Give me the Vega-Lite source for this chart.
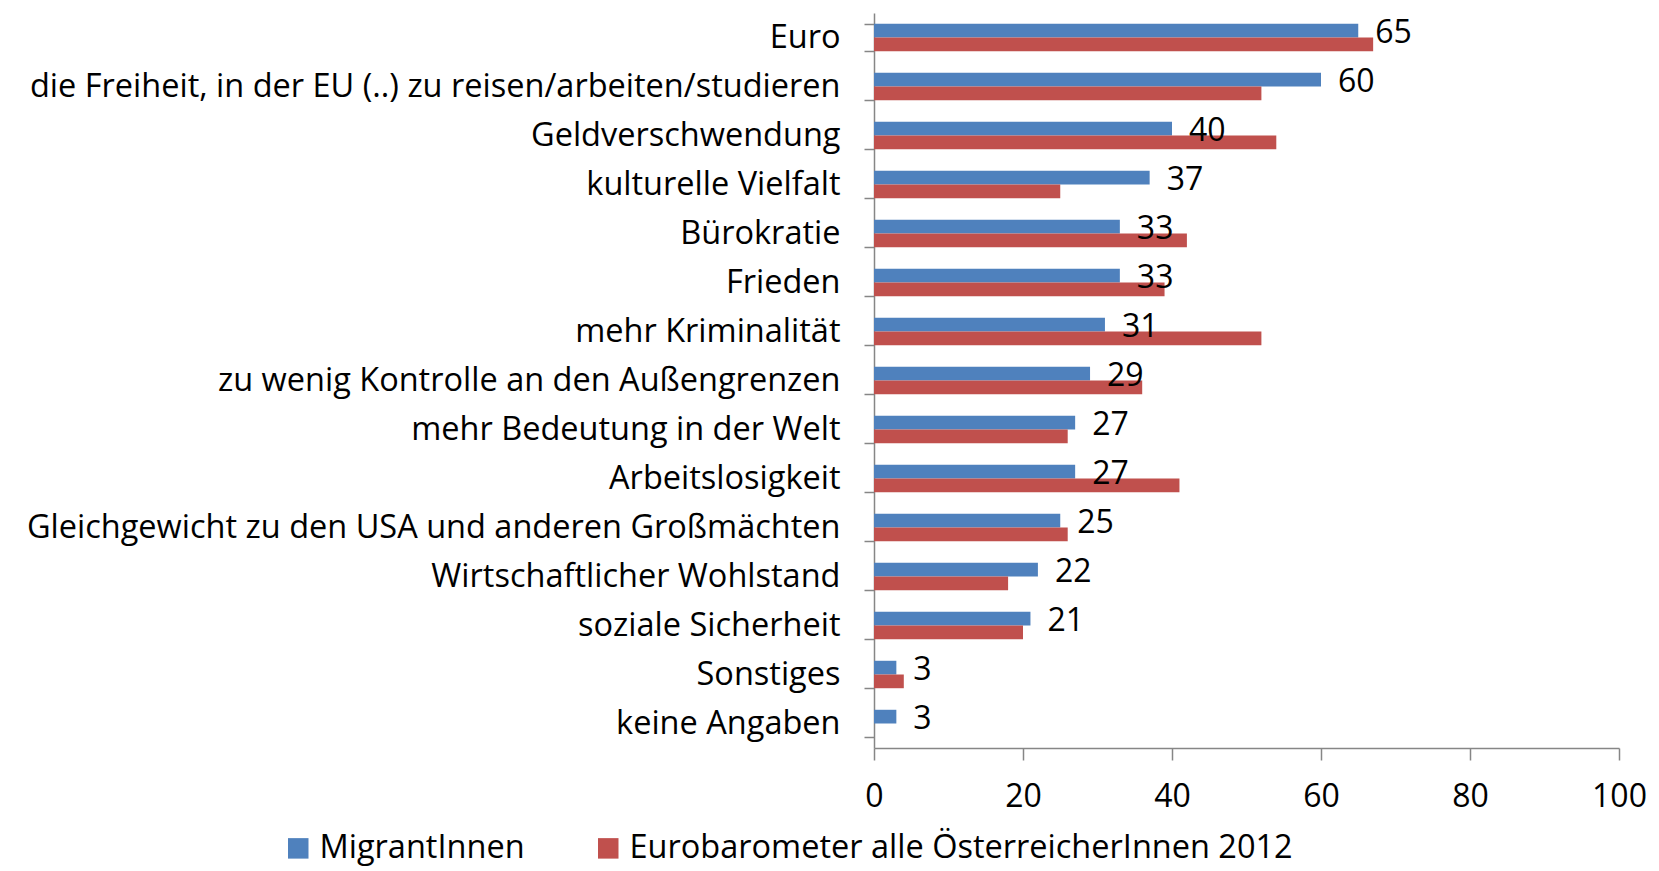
{
  "$schema": "https://vega.github.io/schema/vega-lite/v6.json",
  "width": 745,
  "height": 735,
  "autosize": {"type": "none"},
  "padding": {"left": 874, "top": 13, "right": 40, "bottom": 123},
  "background": "white",
  "config": {"font": "Open Sans", "view": {"stroke": null}, "axis": {"grid": false}},
  "data": {
    "values": [
      {"item": "Euro", "series": "MigrantInnen", "value": 65},
      {"item": "Euro", "series": "Eurobarometer alle ÖsterreicherInnen 2012", "value": 67},
      {"item": "die Freiheit, in der EU (..) zu reisen/arbeiten/studieren", "series": "MigrantInnen", "value": 60},
      {"item": "die Freiheit, in der EU (..) zu reisen/arbeiten/studieren", "series": "Eurobarometer alle ÖsterreicherInnen 2012", "value": 52},
      {"item": "Geldverschwendung", "series": "MigrantInnen", "value": 40},
      {"item": "Geldverschwendung", "series": "Eurobarometer alle ÖsterreicherInnen 2012", "value": 54},
      {"item": "kulturelle Vielfalt", "series": "MigrantInnen", "value": 37},
      {"item": "kulturelle Vielfalt", "series": "Eurobarometer alle ÖsterreicherInnen 2012", "value": 25},
      {"item": "Bürokratie", "series": "MigrantInnen", "value": 33},
      {"item": "Bürokratie", "series": "Eurobarometer alle ÖsterreicherInnen 2012", "value": 42},
      {"item": "Frieden", "series": "MigrantInnen", "value": 33},
      {"item": "Frieden", "series": "Eurobarometer alle ÖsterreicherInnen 2012", "value": 39},
      {"item": "mehr Kriminalität", "series": "MigrantInnen", "value": 31},
      {"item": "mehr Kriminalität", "series": "Eurobarometer alle ÖsterreicherInnen 2012", "value": 52},
      {"item": "zu wenig Kontrolle an den Außengrenzen", "series": "MigrantInnen", "value": 29},
      {"item": "zu wenig Kontrolle an den Außengrenzen", "series": "Eurobarometer alle ÖsterreicherInnen 2012", "value": 36},
      {"item": "mehr Bedeutung in der Welt", "series": "MigrantInnen", "value": 27},
      {"item": "mehr Bedeutung in der Welt", "series": "Eurobarometer alle ÖsterreicherInnen 2012", "value": 26},
      {"item": "Arbeitslosigkeit", "series": "MigrantInnen", "value": 27},
      {"item": "Arbeitslosigkeit", "series": "Eurobarometer alle ÖsterreicherInnen 2012", "value": 41},
      {"item": "Gleichgewicht zu den USA und anderen Großmächten", "series": "MigrantInnen", "value": 25},
      {"item": "Gleichgewicht zu den USA und anderen Großmächten", "series": "Eurobarometer alle ÖsterreicherInnen 2012", "value": 26},
      {"item": "Wirtschaftlicher Wohlstand", "series": "MigrantInnen", "value": 22},
      {"item": "Wirtschaftlicher Wohlstand", "series": "Eurobarometer alle ÖsterreicherInnen 2012", "value": 18},
      {"item": "soziale Sicherheit", "series": "MigrantInnen", "value": 21},
      {"item": "soziale Sicherheit", "series": "Eurobarometer alle ÖsterreicherInnen 2012", "value": 20},
      {"item": "Sonstiges", "series": "MigrantInnen", "value": 3},
      {"item": "Sonstiges", "series": "Eurobarometer alle ÖsterreicherInnen 2012", "value": 4},
      {"item": "keine Angaben", "series": "MigrantInnen", "value": 3}
    ]
  },
  "encoding": {
    "y": {
      "field": "item", "type": "nominal", "sort": null,
      "scale": {"paddingInner": 0.44, "paddingOuter": 0.22},
      "axis": {"title": null, "tickBand": "extent", "labelFontSize": 32.5, "labelColor": "#000", "labelLimit": 900, "labelPadding": 24, "tickSize": 10, "domainColor": "#868686", "tickColor": "#868686", "domainWidth": 1.5, "tickWidth": 1.5}
    },
    "yOffset": {"field": "series", "type": "nominal", "sort": ["MigrantInnen", "Eurobarometer alle ÖsterreicherInnen 2012"]},
    "x": {
      "field": "value", "type": "quantitative",
      "scale": {"domain": [0, 100]},
      "axis": {"title": null, "values": [0, 20, 40, 60, 80, 100], "labelFontSize": 32, "labelColor": "#000", "labelFlush": false, "tickSize": 12, "labelPadding": 21, "domainColor": "#868686", "tickColor": "#868686", "domainWidth": 1.5, "tickWidth": 1.5}
    }
  },
  "layer": [
    {
      "mark": {"type": "bar"},
      "encoding": {
        "color": {
          "field": "series", "type": "nominal",
          "scale": {"domain": ["MigrantInnen", "Eurobarometer alle ÖsterreicherInnen 2012"], "range": ["#4F81BD", "#C0504D"]},
          "legend": {"title": null, "orient": "none", "legendX": -592, "legendY": 819, "direction": "horizontal", "labelFontSize": 32.5, "labelColor": "#000", "labelLimit": 1000, "symbolType": "square", "symbolSize": 420, "symbolStrokeWidth": 0, "columnPadding": 67, "labelOffset": 5}
        }
      }
    },
    {
      "transform": [{"filter": "datum.series === 'MigrantInnen'"}],
      "mark": {"type": "text", "align": "left", "baseline": "middle", "dx": 17, "dy": 2, "fontSize": 32, "color": "#000"},
      "encoding": {"text": {"field": "value", "type": "quantitative"}}
    }
  ]
}
